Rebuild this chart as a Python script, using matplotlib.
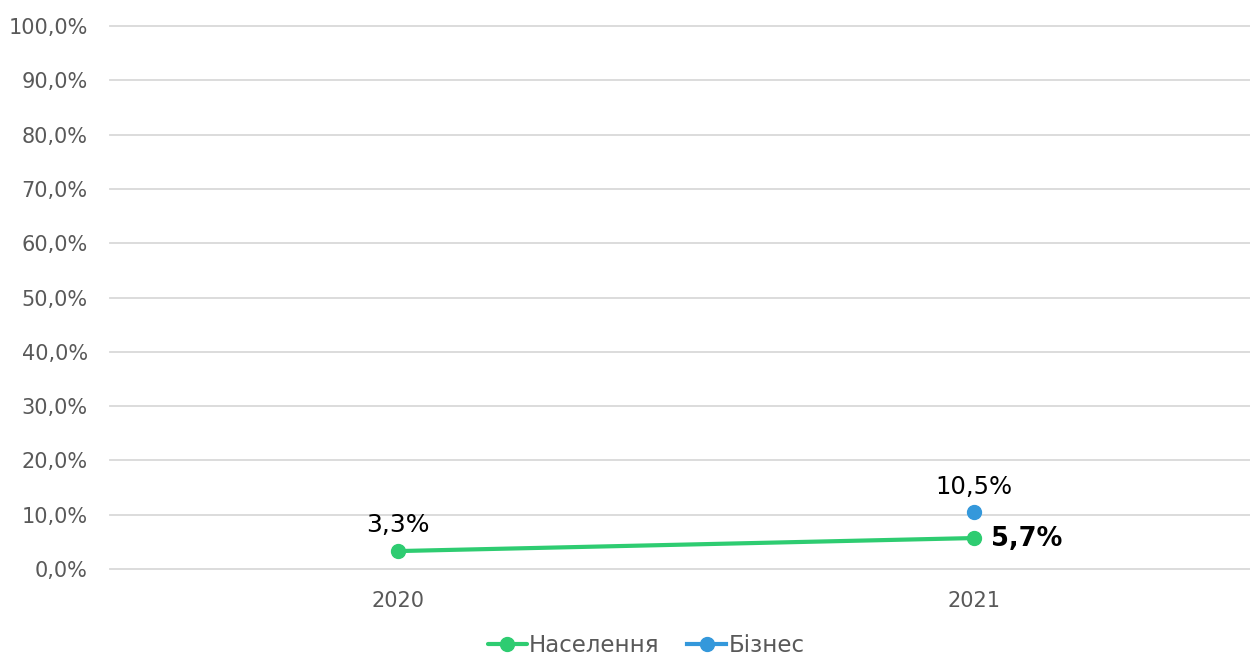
import matplotlib
matplotlib.use("Agg")
import matplotlib.pyplot as plt
from matplotlib.ticker import FuncFormatter

years = ["2020", "2021"]
population = [3.3, 5.7]
business_years = ["2021"]
business = [10.5]

green = "#2ECC71"
blue = "#3498DB"
grey = "#595959"

plt.rcParams["font.family"] = ["DejaVu Sans"]


def pct(v):
    return f"{v:.1f}%".replace(".", ",")


fig = plt.figure(figsize=(12.5, 6.58), dpi=100)
ax = fig.add_axes([110 / 1250, 1 - 569 / 658, 1152 / 1250, (569 - 26) / 658])

xpos = {y: i for i, y in enumerate(years)}
ax.plot([xpos[y] for y in years], population, color=green, lw=3, marker="o", ms=10,
        label="Населення", solid_capstyle="round", zorder=3)
ax.plot([xpos[y] for y in business_years], business, color=blue, lw=3, marker="o", ms=10,
        label="Бізнес", zorder=3)

ax.set_xlim(-0.5, 1.5)
ax.set_ylim(0, 100)
ax.set_yticks(range(0, 101, 10))
ax.yaxis.set_major_formatter(FuncFormatter(lambda v, p: pct(v)))
ax.set_xticks(range(len(years)))
ax.set_xticklabels(years)
ax.grid(axis="y", color="#d9d9d9", lw=1.3)
for gl in ax.get_ygridlines():
    gl.set_clip_on(False)
ax.set_axisbelow(True)
for s in ax.spines.values():
    s.set_visible(False)
ax.tick_params(length=0, labelsize=15, colors=grey)
ax.tick_params(axis="y", pad=16)
ax.tick_params(axis="x", pad=16)

ax.annotate(pct(population[0]), (0, population[0]), xytext=(0, 10),
            textcoords="offset points", ha="center", va="bottom", fontsize=18, color="black")
ax.annotate(pct(population[1]), (1, population[1]), xytext=(12, -1),
            textcoords="offset points", ha="left", va="center", fontsize=18.5, fontweight="bold",
            color="black")
ax.annotate(pct(business[0]), (xpos[business_years[0]], business[0]),
            xytext=(0, 9), textcoords="offset points", ha="center", va="bottom", fontsize=17.5,
            color="black")

leg = fig.legend(loc="lower center", bbox_to_anchor=(0.517, -0.03), ncol=2, frameon=False,
                 fontsize=16.5, handlelength=1.7, handletextpad=0.1, columnspacing=1.2)
for t in leg.get_texts():
    t.set_color(grey)

fig.savefig("out.png", dpi=100)
